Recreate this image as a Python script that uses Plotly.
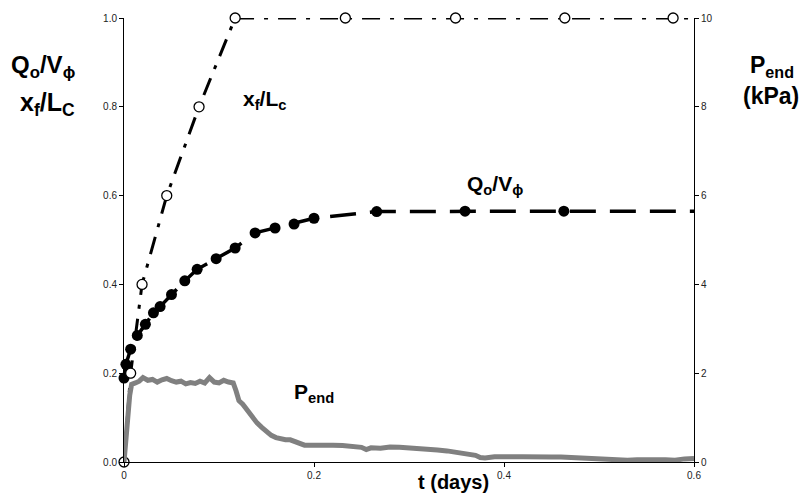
import plotly.graph_objects as go

# ---- data ----
qo_t = [0, 0.002, 0.007, 0.014, 0.0225, 0.031, 0.038, 0.050, 0.064, 0.077, 0.097,
        0.117, 0.138, 0.159, 0.179, 0.200, 0.266, 0.359, 0.463]
qo_v = [0.189, 0.220, 0.254, 0.285, 0.310, 0.336, 0.350, 0.377, 0.408, 0.434, 0.458,
        0.482, 0.516, 0.527, 0.536, 0.549, 0.564, 0.565, 0.565]
qo_end_t = 0.6
qo_end_v = 0.565

xf_t = [0, 0.007, 0.019, 0.045, 0.079, 0.117, 0.233, 0.349, 0.464, 0.578]
xf_v = [0.0, 0.2, 0.4, 0.6, 0.8, 1.0, 1.0, 1.0, 1.0, 1.0]
xf_end_t = 0.6
xf_end_v = 1.0

p_t = [0, 0.002, 0.004, 0.006, 0.008, 0.012, 0.016, 0.02, 0.025, 0.03, 0.035, 0.04,
       0.045, 0.05, 0.055, 0.06, 0.065, 0.07, 0.075, 0.08, 0.085, 0.09, 0.095, 0.1,
       0.105, 0.11, 0.115, 0.118, 0.121, 0.125, 0.13, 0.135, 0.14, 0.145, 0.15, 0.155,
       0.16, 0.165, 0.17, 0.175, 0.18, 0.185, 0.19, 0.2, 0.21, 0.22, 0.23, 0.24, 0.25,
       0.255, 0.26, 0.27, 0.28, 0.29, 0.3, 0.31, 0.32, 0.33, 0.34, 0.35, 0.36, 0.37,
       0.375, 0.38, 0.39, 0.4, 0.41, 0.42, 0.43, 0.44, 0.45, 0.46, 0.47, 0.48, 0.49,
       0.5, 0.51, 0.52, 0.53, 0.54, 0.55, 0.56, 0.57, 0.58, 0.59, 0.6]
p_v = [0, 0.4, 1.0, 1.5, 1.75, 1.78, 1.82, 1.9, 1.84, 1.86, 1.8, 1.85,
       1.88, 1.83, 1.8, 1.82, 1.76, 1.79, 1.77, 1.82, 1.78, 1.9, 1.8, 1.78,
       1.84, 1.8, 1.78, 1.6, 1.38, 1.3, 1.15, 1.0, 0.88, 0.78, 0.68, 0.6,
       0.55, 0.52, 0.5, 0.5, 0.45, 0.40, 0.38, 0.38, 0.39, 0.38, 0.37, 0.36, 0.33,
       0.28, 0.32, 0.31, 0.34, 0.33, 0.32, 0.30, 0.28, 0.27, 0.25, 0.22, 0.19, 0.15,
       0.1, 0.09, 0.12, 0.13, 0.12, 0.12, 0.11, 0.12, 0.11, 0.11, 0.10, 0.10, 0.09,
       0.06, 0.05, 0.05, 0.04, 0.05, 0.04, 0.05, 0.05, 0.04, 0.07, 0.08]
assert len(p_t) == len(p_v)

FONT = "Arial, Liberation Sans, sans-serif"

fig = go.Figure()

# P_end (right axis)
fig.add_trace(go.Scatter(x=p_t, y=p_v, yaxis="y2", mode="lines",
                         line=dict(color="#808080", width=5), showlegend=False,
                         hoverinfo="skip"))

# Qo/Vphi
fig.add_trace(go.Scatter(x=qo_t + [qo_end_t], y=qo_v + [qo_end_v], mode="lines",
                         line=dict(color="black", width=3.5, dash="26px,14px"),
                         showlegend=False))
fig.add_trace(go.Scatter(x=qo_t, y=qo_v, mode="markers", cliponaxis=False,
                         marker=dict(color="black", size=11), showlegend=False))

# xf/Lc
fig.add_trace(go.Scatter(x=xf_t + [xf_end_t], y=xf_v + [xf_end_v], mode="lines",
                         cliponaxis=False,
                         line=dict(color="black", width=3, dash="18px,10px,4px,10px"),
                         showlegend=False))
fig.add_trace(go.Scatter(x=xf_t, y=xf_v, mode="markers", cliponaxis=False,
                         marker=dict(color="white", size=10,
                                     line=dict(color="black", width=1.3)),
                         showlegend=False))

axis_common = dict(showgrid=False, zeroline=False, showline=True, linecolor="black",
                   linewidth=1, ticks="outside", ticklen=4, tickcolor="black",
                   tickfont=dict(family=FONT, size=10, color="#222"))

fig.update_layout(
    width=807, height=497,
    margin=dict(l=124, r=113, t=14, b=35),
    paper_bgcolor="white", plot_bgcolor="white",
    xaxis=dict(range=[0, 0.6], tickvals=[0, 0.2, 0.4, 0.6],
               ticktext=["0", "0.2", "0.4", "0.6"], **axis_common),
    yaxis=dict(range=[0, 1.0], tickvals=[0, 0.2, 0.4, 0.6, 0.8, 1.0],
               tickformat=".1f", **axis_common),
    yaxis2=dict(range=[0, 10], tickvals=[0, 2, 4, 6, 8, 10], overlaying="y",
                side="right", **axis_common),
    showlegend=False,
)

def ann(x, y, text, size, xanchor="center"):
    fig.add_annotation(x=x, y=y, xref="paper", yref="paper", text=text,
                       showarrow=False, xanchor=xanchor, yanchor="middle",
                       font=dict(family=FONT, size=size, color="black"))

# convert pixel positions to paper coords
PW, PH = 807 - 124 - 113, 497 - 14 - 35
def px(xp):
    return (xp - 124) / PW
def py(yp):
    return (462 - yp) / PH

ann(px(43), py(63), "<b>Q<sub>o</sub>/V<sub>ϕ</sub></b>", 24)
ann(px(47), py(101), "<b>x<sub>f</sub>/L<sub>C</sub></b>", 25)
ann(px(772), py(63), "<b>P<sub>end</sub></b>", 23)
ann(px(771), py(93), "<b>(kPa)</b>", 23)
ann(px(453), py(482), "<b>t (days)</b>", 20)
ann(px(264), py(97), "<b>x<sub>f</sub>/L<sub>c</sub></b>", 21)
ann(px(495), py(183), "<b>Q<sub>o</sub>/V<sub>ϕ</sub></b>", 21)
ann(px(314), py(392), "<b>P<sub>end</sub></b>", 21)

fig.write_html("out.html")
